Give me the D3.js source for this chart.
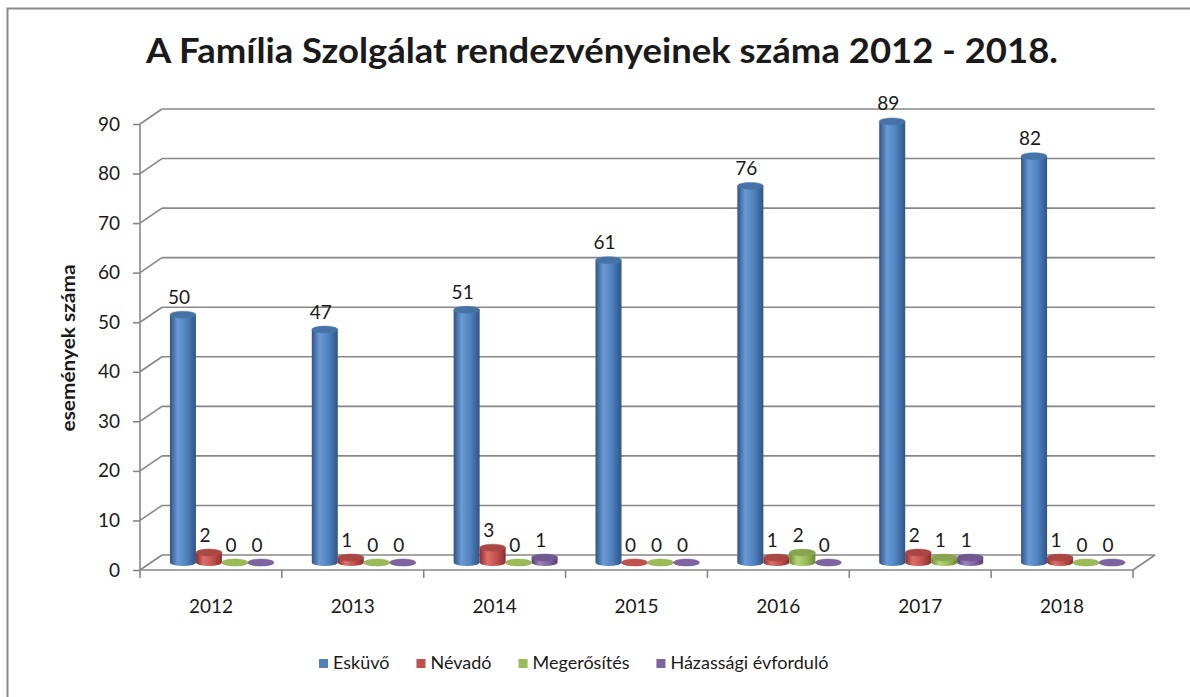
<!DOCTYPE html>
<html>
<head>
<meta charset="utf-8">
<script src="https://cdnjs.cloudflare.com/ajax/libs/d3/7.8.5/d3.min.js"></script>
<style>
  body { margin: 0; background: #fff; }
  text { font-family: Lato, "Open Sans", sans-serif; fill: #1a1a1a; }
</style>
</head>
<body>
<svg width="1190" height="697"></svg>
<script>
// Data
let years = ["2012", "2013", "2014", "2015", "2016", "2017", "2018"];
let seriesNames = ["Esküvő", "Névadó", "Megerősítés", "Házassági évforduló"];
let eskuvo = [50, 47, 51, 61, 76, 89, 82];
let nevado = [2, 1, 3, 0, 1, 2, 1];
let megerosites = [0, 0, 0, 0, 2, 1, 0];
let hazassagi = [0, 0, 1, 0, 0, 1, 0];
let yTicks = [0, 10, 20, 30, 40, 50, 60, 70, 80, 90];
let colors = ["#4F81BD", "#C0504D", "#9BBB59", "#8064A2"];
let dark = ["#2f5486", "#8c2f2c", "#6a8a30", "#55407a"];
let light = ["#6a9ad6", "#dc6f6b", "#b5d47a", "#9c82bf"];

let allSeries = [eskuvo, nevado, megerosites, hazassagi];

let svg = d3.select("svg");

// outer frame
svg.append("rect")
  .attr("x", 7.5).attr("y", 8.5)
  .attr("width", 1200).attr("height", 700)
  .attr("fill", "none").attr("stroke", "#8a8a8a").attr("stroke-width", 2);

// scales (front plane)
let x = d3.scaleBand().domain(years).range([140, 1133]);
let y = d3.scaleLinear().domain([0, 90]).range([570, 124]);
let depth = { dx: 22, dy: -15 };
let mid = { dx: depth.dx / 2, dy: depth.dy / 2 };
let groupW = 104;
let xs = d3.scaleBand().domain(d3.range(4)).range([0, groupW]);
let rx = xs.bandwidth() / 2, ry = 3.5;

let gridColor = "#878787";

// back wall gridlines + left wall diagonals
let grid = svg.append("g");
yTicks.forEach(t => {
  let yy = y(t);
  grid.append("line")
    .attr("x1", 140 + depth.dx).attr("x2", 1133 + depth.dx)
    .attr("y1", yy + depth.dy).attr("y2", yy + depth.dy)
    .attr("stroke", gridColor).attr("stroke-width", 1.6);
  grid.append("line")
    .attr("x1", 140).attr("y1", yy)
    .attr("x2", 140 + depth.dx).attr("y2", yy + depth.dy)
    .attr("stroke", gridColor).attr("stroke-width", 1.6);
});

// floor front and right edges
grid.append("line").attr("x1", 140).attr("x2", 1133).attr("y1", y(0)).attr("y2", y(0))
  .attr("stroke", gridColor).attr("stroke-width", 1.6);
grid.append("line").attr("x1", 1133).attr("y1", y(0))
  .attr("x2", 1133 + depth.dx).attr("y2", y(0) + depth.dy)
  .attr("stroke", gridColor).attr("stroke-width", 1.6);

// y axis
let yAxis = svg.append("g")
  .attr("transform", "translate(140,0)")
  .call(d3.axisLeft(y).tickValues(yTicks).tickSize(7).tickPadding(13));
yAxis.select(".domain").attr("stroke", gridColor).attr("stroke-width", 1.6)
  .attr("d", "M0," + y(0) + "V" + y(90));
yAxis.selectAll(".tick line").attr("stroke", gridColor).attr("stroke-width", 1.6);
yAxis.selectAll(".tick text")
  .style("font-family", "Lato, sans-serif").style("font-size", "19px").attr("fill", "#1a1a1a");

// x axis
let xAxis = svg.append("g")
  .attr("transform", "translate(0," + y(0) + ")")
  .call(d3.axisBottom(x).tickSize(0).tickPadding(30));
xAxis.select(".domain").remove();
xAxis.selectAll(".tick text")
  .style("font-family", "Lato, sans-serif").style("font-size", "19px").attr("fill", "#1a1a1a");
// category separators
years.concat(["end"]).forEach((yr, i) => {
  let xx = 140 + i * x.bandwidth();
  svg.append("line").attr("x1", xx).attr("x2", xx)
    .attr("y1", y(0)).attr("y2", y(0) + 8)
    .attr("stroke", gridColor).attr("stroke-width", 1.6);
});

// gradients
let defs = svg.append("defs");
colors.forEach((c, i) => {
  let g = defs.append("linearGradient").attr("id", "grad" + i)
    .attr("x1", "0%").attr("x2", "100%").attr("y1", "0%").attr("y2", "0%");
  g.append("stop").attr("offset", "0%").attr("stop-color", dark[i]);
  g.append("stop").attr("offset", "30%").attr("stop-color", light[i]);
  g.append("stop").attr("offset", "65%").attr("stop-color", c);
  g.append("stop").attr("offset", "100%").attr("stop-color", dark[i]);
});

// bars (cylinders)
let bars = svg.append("g");
let labels = svg.append("g");
years.forEach((yr, ci) => {
  let gx = x(yr) + (x.bandwidth() - groupW) / 2 + mid.dx;
  allSeries.forEach((vals, si) => {
    let v = vals[ci];
    let cx = gx + xs(si) + rx;
    let yb = y(0) + mid.dy;
    let yt = y(v) + mid.dy;
    let p = "M" + (cx - rx) + "," + yt +
      "L" + (cx - rx) + "," + yb +
      "A" + rx + "," + ry + " 0 0 0 " + (cx + rx) + "," + yb +
      "L" + (cx + rx) + "," + yt + "Z";
    bars.append("path").attr("d", p).attr("fill", "url(#grad" + si + ")");
    bars.append("ellipse")
      .attr("cx", cx).attr("cy", yt).attr("rx", rx).attr("ry", ry)
      .attr("fill", v === 0 ? colors[si] : d3.color(colors[si]).darker(0.35))
      .attr("stroke", d3.color(colors[si]).darker(0.2)).attr("stroke-width", 0.5);
    labels.append("text")
      .attr("x", cx - 4).attr("y", yt - 11)
      .attr("text-anchor", "middle")
      .style("font-size", "19px")
      .text(v);
  });
});

// title
svg.append("text")
  .attr("x", 602).attr("y", 63)
  .attr("text-anchor", "middle")
  .attr("textLength", 912).attr("lengthAdjust", "spacingAndGlyphs")
  .style("font-size", "35px").style("font-weight", "bold")
  .attr("fill", "#000")
  .text("A Família Szolgálat rendezvényeinek száma 2012 - 2018.");

// y axis label
svg.append("text")
  .attr("transform", "translate(75,348) rotate(-90)")
  .attr("text-anchor", "middle")
  .attr("textLength", 167).attr("lengthAdjust", "spacingAndGlyphs")
  .style("font-size", "18px").style("font-weight", "bold")
  .text("események száma");

// legend
let lx = 319;
seriesNames.forEach((name, i) => {
  svg.append("rect").attr("x", lx).attr("y", 659).attr("width", 9).attr("height", 9)
    .attr("fill", colors[i]);
  let t = svg.append("text").attr("x", lx + 14).attr("y", 669)
    .style("font-size", "18px").text(name);
  lx += 14 + t.node().getComputedTextLength() + 27;
});
</script>
</body>
</html>
